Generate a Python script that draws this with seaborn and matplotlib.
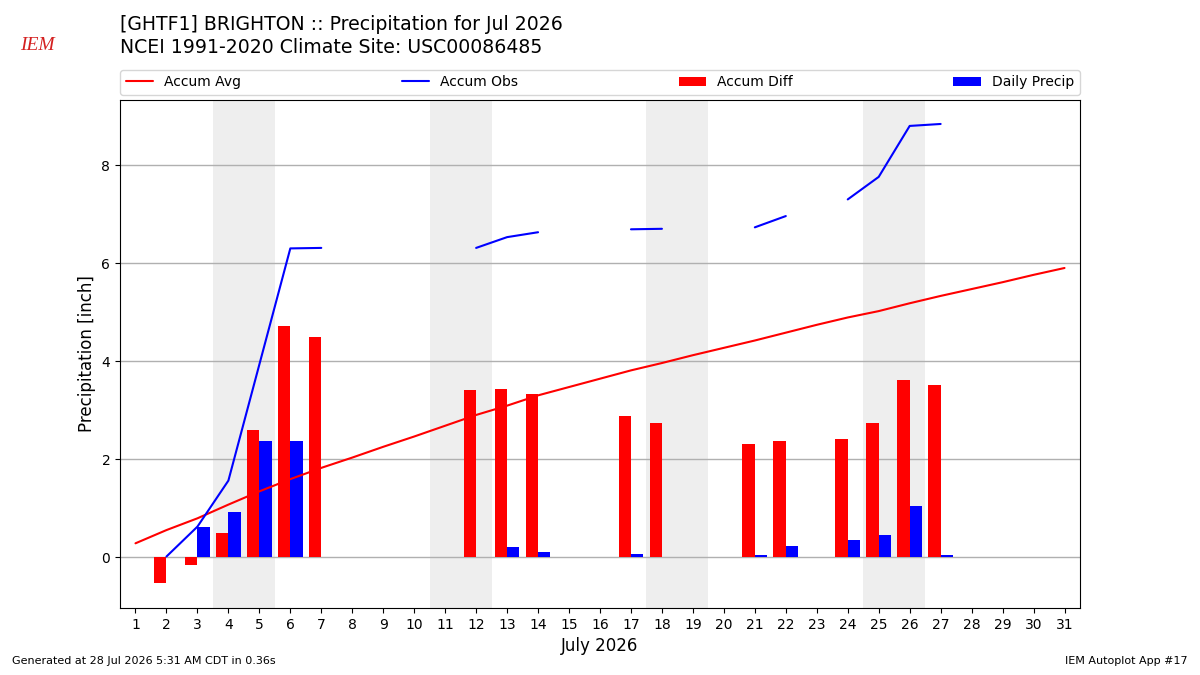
import numpy as np
import pandas as pd
import matplotlib
matplotlib.use("Agg")
import matplotlib.pyplot as plt
import seaborn as sns

nan = np.nan
days = list(range(1, 32))
accum_avg = [0.28, 0.55, 0.79, 1.07, 1.34, 1.59, 1.82, 2.03, 2.25, 2.46,
             2.68, 2.90, 3.09, 3.30, 3.47, 3.64, 3.81, 3.96, 4.12, 4.27,
             4.42, 4.58, 4.74, 4.89, 5.02, 5.18, 5.33, 5.47, 5.61, 5.76, 5.90]
accum_obs = [nan, 0.01, 0.62, 1.56, 3.93, 6.30, 6.31, nan, nan, nan,
             nan, 6.31, 6.53, 6.63, nan, nan, 6.69, 6.70, nan, nan,
             6.73, 6.96, nan, 7.30, 7.76, 8.80, 8.84, nan, nan, nan, nan]
accum_diff = [nan, -0.53, -0.17, 0.49, 2.59, 4.71, 4.49, nan, nan, nan,
              nan, 3.41, 3.43, 3.33, nan, nan, 2.88, 2.73, nan, nan,
              2.31, 2.37, nan, 2.41, 2.73, 3.61, 3.51, nan, nan, nan, nan]
daily_precip = [nan, 0.01, 0.61, 0.92, 2.37, 2.37, 0.0, nan, nan, nan,
                nan, 0.0, 0.20, 0.10, nan, nan, 0.06, 0.0, nan, nan,
                0.04, 0.22, nan, 0.35, 0.45, 1.04, 0.04, nan, nan, nan, nan]
weekend_days = [4, 5, 11, 12, 18, 19, 25, 26]

sns.set_style("ticks")
plt.rcParams["font.family"] = ["DejaVu Sans"]
plt.rcParams.update({"text.color": "black", "axes.labelcolor": "black",
                     "xtick.color": "black", "ytick.color": "black",
                     "axes.edgecolor": "black"})

df = pd.DataFrame({"day": days, "avg": accum_avg, "obs": accum_obs,
                   "diff": accum_diff, "precip": daily_precip})

fig = plt.figure(figsize=(12, 6.75), dpi=100)
ax = fig.add_axes([0.1, 0.0993, 0.8, 0.7526])

for d in weekend_days:
    ax.axvspan(d - 0.5, d + 0.5, color="#eeeeee", lw=0, zorder=0)

ax.grid(axis="y", color="#b0b0b0", lw=1, zorder=1)
ax.set_axisbelow(True)

sns.lineplot(data=df, x="day", y="avg", color="red", lw=1.5, ax=ax,
             label="Accum Avg", zorder=3)

# observed accumulation broken into contiguous segments
obs = df["obs"].to_numpy()
valid = ~np.isnan(obs)
seg_id = np.cumsum(np.r_[True, valid[1:] != valid[:-1]])
first = True
for sid in np.unique(seg_id[valid]):
    sub = df[(seg_id == sid) & valid]
    sns.lineplot(data=sub, x="day", y="obs", color="blue", lw=1.5, ax=ax,
                 label="Accum Obs" if first else None, zorder=3)
    first = False

dsub = df.dropna(subset=["diff"])
ax.bar(dsub["day"], dsub["diff"], width=-0.4, align="edge", color="red",
       linewidth=0, label="Accum Diff", zorder=2)
psub = df.dropna(subset=["precip"])
ax.bar(psub["day"], psub["precip"], width=0.4, align="edge", color="blue",
       linewidth=0, label="Daily Precip", zorder=2)

ax.set_xlim(0.5, 31.5)
ax.set_ylim(-1.04, 9.33)
ax.set_xticks(days)
ax.set_xticklabels([str(d) for d in days], fontsize=10)
ax.set_yticks([0, 2, 4, 6, 8])
ax.tick_params(axis="y", labelsize=10)
ax.set_xlabel("July 2026", fontsize=12)
ax.set_ylabel("Precipitation [inch]", fontsize=12)
for s in ax.spines.values():
    s.set_visible(True)
    s.set_color("black")

handles, labels = ax.get_legend_handles_labels()
order = ["Accum Avg", "Accum Obs", "Accum Diff", "Daily Precip"]
hmap = dict(zip(labels, handles))
ax.legend([hmap[k] for k in order], order, loc="lower left",
          bbox_to_anchor=(0, 1.01, 1, 0.05), mode="expand", ncol=4,
          fontsize=10, borderaxespad=0, frameon=True)

fig.text(0.1, 0.978, "[GHTF1] BRIGHTON :: Precipitation for Jul 2026\nNCEI 1991-2020 Climate Site: USC00086485",
         fontsize=13.6, va="top", ha="left", linespacing=1.25)
fig.text(0.031, 0.933, "IEM", color="#d42020", fontsize=14, family="Liberation Serif",
         style="italic", ha="center", va="center")
fig.text(0.01, 0.014, "Generated at 28 Jul 2026 5:31 AM CDT in 0.36s", fontsize=8,
         ha="left", va="bottom")
fig.text(0.99, 0.014, "IEM Autoplot App #17", fontsize=8, ha="right", va="bottom")

fig.savefig("out.png", dpi=100)
